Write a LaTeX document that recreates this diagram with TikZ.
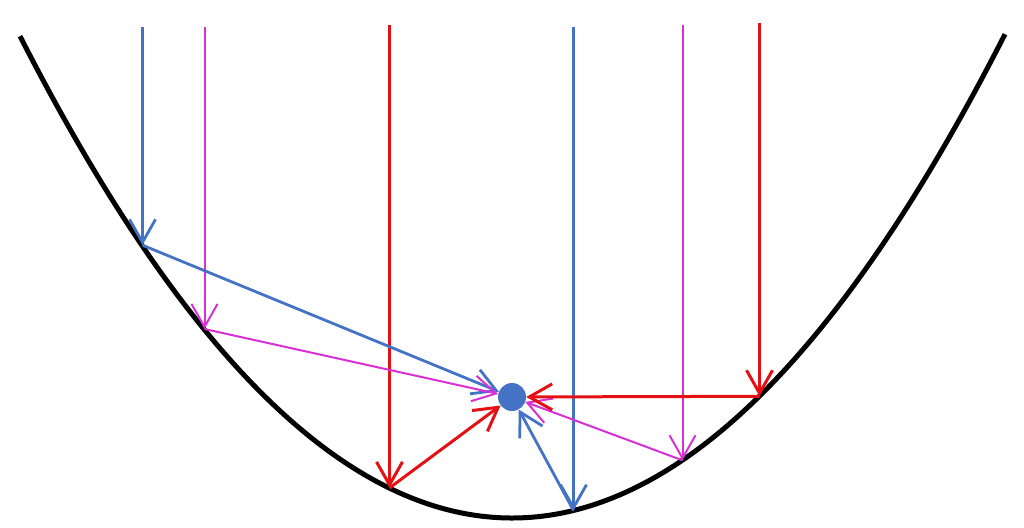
\documentclass[tikz,border=0pt]{standalone}
\usetikzlibrary{arrows.meta}
\definecolor{rayblue}{RGB}{68,114,196}
\definecolor{rayred}{RGB}{228,16,20}
\definecolor{raymag}{RGB}{214,48,214}
\begin{document}
\begin{tikzpicture}[x=1pt,y=-1pt,
  tip/.style={-{Straight Barb[length=23pt,width=26pt]}},
  blueray/.style={tip,draw=rayblue,line width=2.8pt},
  redray/.style={tip,draw=rayred,line width=3.0pt},
  magray/.style={tip,draw=raymag,line width=2pt},
  mirror/.style={draw=black,line width=5pt}]
\useasboundingbox (0,0) rectangle (1024,527);
% parabola
\draw[mirror,domain=20:1005,samples=200,smooth] plot (\x,{518-(0.04462*(\x-512))^2});
% focus
\node[circle,fill=rayblue,minimum size=28pt,inner sep=0pt] (F) at (512,397) {};
% top points
\coordinate (b1t) at (142.5,27);
\coordinate (m1t) at (204.5,27);
\coordinate (r1t) at (389.5,25);
\coordinate (b2t) at (573.5,27);
\coordinate (m2t) at (682.5,25);
\coordinate (r2t) at (759.5,23);
% mirror points
\coordinate (b1) at (142.5,245.2);
\coordinate (m1) at (204.5,329);
\coordinate (r1) at (389.5,487.9);
\coordinate (b2) at (573.5,510.5);
\coordinate (m2) at (682.5,460.3);
\coordinate (r2) at (759.5,396.3);
% incident rays
\draw[blueray] (b1t) -- (b1);
\draw[magray] (m1t) -- (m1);
\draw[redray] (r1t) -- (r1);
\draw[blueray] (b2t) -- (b2);
\draw[magray] (m2t) -- (m2);
\draw[redray] (r2t) -- (r2);
% reflected rays
\draw[blueray] (b1) -- (F);
\draw[magray] (m1) -- (F);
\draw[redray] (r1) -- (F);
\draw[blueray] (b2) -- (F);
\draw[magray] (m2) -- (F);
\draw[redray] (r2) -- (F);
\end{tikzpicture}
\end{document}
